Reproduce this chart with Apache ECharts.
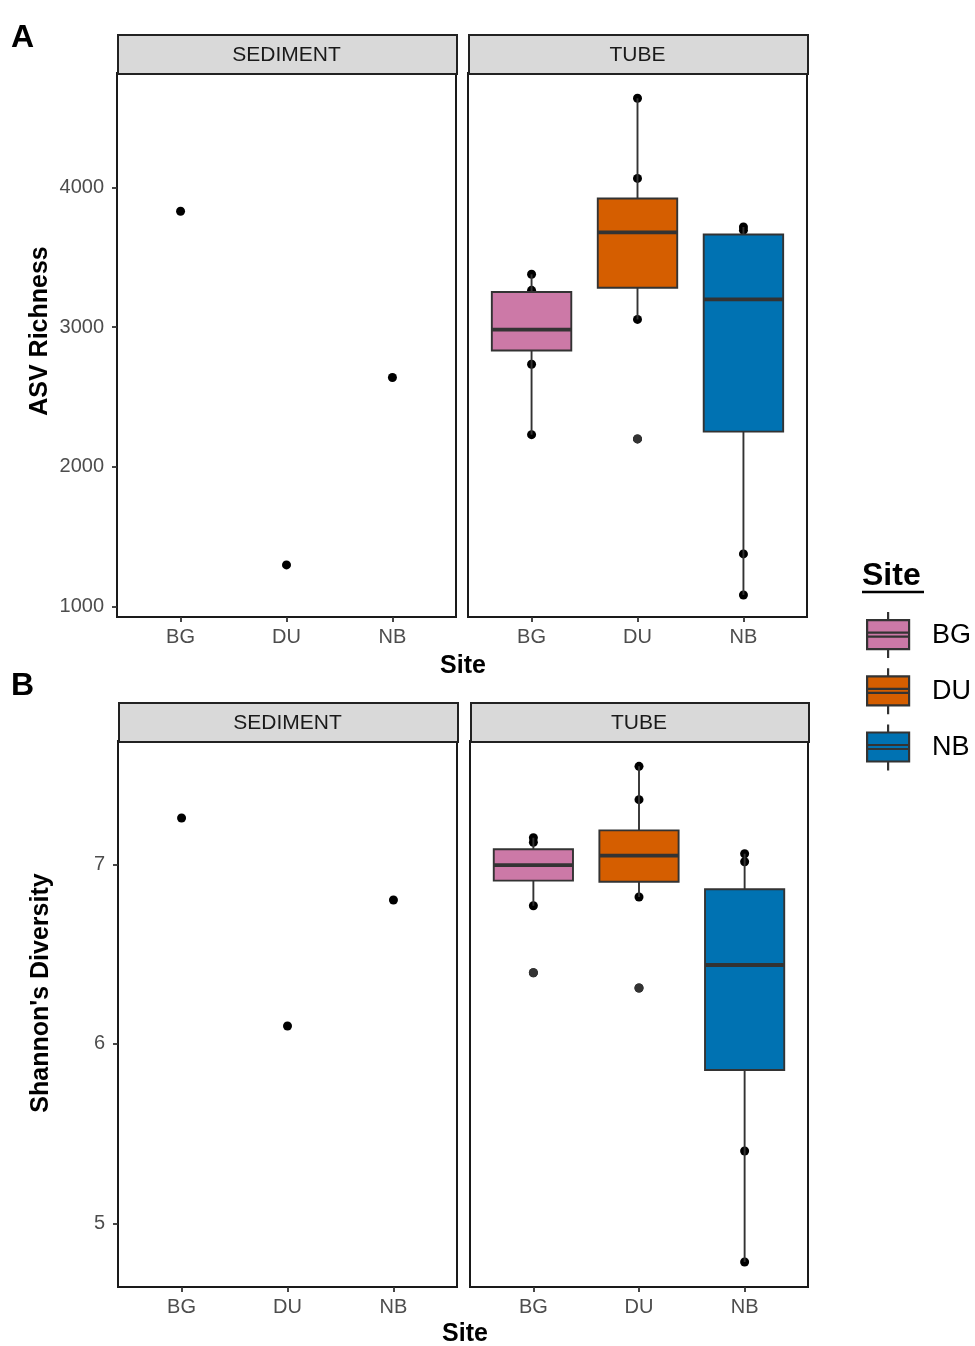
<!DOCTYPE html>
<html>
<head>
<meta charset="utf-8">
<script src="https://cdn.jsdelivr.net/npm/echarts@6/dist/echarts.min.js"></script>
<style>
html,body{margin:0;padding:0;background:#fff;}
#chart{width:975px;height:1346px;}
</style>
</head>
<body>
<div id="chart"></div>
<script>
// ---------- data ----------
const sites = ['BG', 'DU', 'NB'];
const siteColors = ['#CC79A7', '#D55E00', '#0072B2'];
const facets = ['SEDIMENT', 'TUBE'];
const richnessTicks = [1000, 2000, 3000, 4000];
const shannonTicks = [5, 6, 7];

// Panel A: ASV Richness
const sedimentRichness = [3830, 1296, 2639];
// box stats per site: [lower whisker, Q1, median, Q3, upper whisker]
const tubeRichnessBox = [
  [2229, 2832, 2981, 3251, 3378],
  [3055, 3282, 3679, 3921, 4639],
  [1081, 2251, 3198, 3663, 3717]
];
const tubeRichnessPoints = [
  [3378, 3263, 2734, 2229],
  [4639, 4065, 3055, 2199],
  [3717, 3694, 1375, 1081]
];
const tubeRichnessOutliers = [[], [2199], []];

// Panel B: Shannon's Diversity
const sedimentShannon = [7.258, 6.099, 6.801];
const tubeShannonBox = [
  [6.769, 6.909, 6.996, 7.084, 7.148],
  [6.818, 6.903, 7.048, 7.189, 7.546],
  [4.784, 5.854, 6.439, 6.861, 7.059]
];
const tubeShannonPoints = [
  [7.148, 7.123, 6.769, 6.396],
  [7.546, 7.360, 6.818, 6.311],
  [7.059, 7.014, 5.403, 4.784]
];
const tubeShannonOutliers = [[6.396], [6.311], []];

// ---------- styling ----------
const FONT = 'Liberation Sans, Arial, Helvetica, sans-serif';
const INK = '#333333';
const grids = [
  {left: 117, top: 73, width: 339, height: 544},
  {left: 468, top: 73, width: 339, height: 544},
  {left: 118, top: 741, width: 339, height: 546},
  {left: 470, top: 741, width: 338, height: 546}
];

function xAxisFor(gi) {
  return {
    type: 'value', gridIndex: gi, min: 0.4, max: 3.6,
    splitLine: {show: false},
    axisLine: {show: false},
    axisTick: {show: true, length: 5, customValues: [1, 2, 3], lineStyle: {color: INK, width: 1.8}},
    axisLabel: {customValues: [1, 2, 3], formatter: v => sites[Math.round(v) - 1] || '',
      color: '#4D4D4D', fontSize: 20, fontFamily: FONT, margin: 10}
  };
}
function yAxisFor(gi, min, max, ticks, showLabels) {
  return {
    type: 'value', gridIndex: gi, min: min, max: max,
    splitLine: {show: false},
    axisLine: {show: false},
    axisTick: {show: showLabels, length: 5, customValues: ticks, lineStyle: {color: INK, width: 1.8}},
    axisLabel: {show: showLabels, customValues: ticks, formatter: v => String(v),
      color: '#4D4D4D', fontSize: 20, fontFamily: FONT, margin: 13}
  };
}

function boxRender(params, api) {
  const x = api.value(0);
  const lo = api.coord([x, api.value(1)]);
  const q1 = api.coord([x, api.value(2)]);
  const med = api.coord([x, api.value(3)]);
  const q3 = api.coord([x, api.value(4)]);
  const hi = api.coord([x, api.value(5)]);
  const w = api.size([0.75, 0])[0];
  const cx = lo[0];
  const ls = {stroke: INK, lineWidth: 1.9};
  return {
    type: 'group',
    children: [
      {type: 'line', shape: {x1: cx, y1: hi[1], x2: cx, y2: q3[1]}, style: ls},
      {type: 'line', shape: {x1: cx, y1: q1[1], x2: cx, y2: lo[1]}, style: ls},
      {type: 'rect', shape: {x: cx - w / 2, y: q3[1], width: w, height: q1[1] - q3[1]},
        style: {fill: api.visual('color'), stroke: INK, lineWidth: 1.9}},
      {type: 'line', shape: {x1: cx - w / 2, y1: med[1], x2: cx + w / 2, y2: med[1]},
        style: {stroke: INK, lineWidth: 3.8}}
    ]
  };
}

const series = [];
function addPanel(gSed, gTube, sedVals, boxes, points, outliers) {
  series.push({
    type: 'scatter', name: 'sediment', xAxisIndex: gSed, yAxisIndex: gSed,
    symbolSize: 9, itemStyle: {color: '#000', opacity: 1}, z: 1,
    data: sedVals.map((v, i) => [i + 1, v])
  });
  const pts = [];
  points.forEach((arr, i) => arr.forEach(v => pts.push([i + 1, v])));
  series.push({
    type: 'scatter', name: 'tube points', xAxisIndex: gTube, yAxisIndex: gTube,
    symbolSize: 9, itemStyle: {color: '#000', opacity: 1}, z: 1, data: pts
  });
  sites.forEach((s, i) => {
    series.push({
      type: 'custom', name: s, xAxisIndex: gTube, yAxisIndex: gTube, z: 2,
      itemStyle: {color: siteColors[i]},
      renderItem: boxRender,
      encode: {x: 0, y: [1, 2, 3, 4, 5]},
      data: [[i + 1].concat(boxes[i])]
    });
  });
  const outs = [];
  outliers.forEach((arr, i) => arr.forEach(v => outs.push([i + 1, v])));
  series.push({
    type: 'scatter', name: 'outliers', xAxisIndex: gTube, yAxisIndex: gTube,
    symbolSize: 9, itemStyle: {color: '#333333', opacity: 1}, z: 3, data: outs
  });
}
addPanel(0, 1, sedimentRichness, tubeRichnessBox, tubeRichnessPoints, tubeRichnessOutliers);
addPanel(2, 3, sedimentShannon, tubeShannonBox, tubeShannonPoints, tubeShannonOutliers);

const graphics = [];
grids.forEach((g, i) => {
  graphics.push({
    type: 'rect', left: g.left, top: g.top - 39, z: 10,
    shape: {width: g.width, height: 39},
    style: {fill: '#D9D9D9', stroke: '#222', lineWidth: 2}
  });
  graphics.push({
    type: 'text', z: 11,
    x: g.left + g.width / 2, y: g.top - 18,
    style: {text: facets[i % 2], fontSize: 21, fontFamily: FONT, fill: '#1A1A1A', align: 'center', verticalAlign: 'middle'}
  });
});
const boldText = (txt, x, y, size, rot, align) => ({
  type: 'text', x: x, y: y, rotation: rot || 0,
  style: {text: txt, fontSize: size, fontWeight: 'bold', fontFamily: FONT, fill: '#000',
    align: align || 'center', verticalAlign: 'middle'}
});
graphics.push(boldText('Site', 463, 666, 25));
graphics.push(boldText('Site', 465, 1334, 25));
graphics.push(boldText('ASV Richness', 40, 331, 25, Math.PI / 2));
graphics.push(boldText("Shannon's Diversity", 41, 993, 25, Math.PI / 2));
graphics.push(boldText('A', 11, 38, 32, 0, 'left'));
graphics.push(boldText('B', 11, 686, 32, 0, 'left'));
graphics.push(boldText('Site', 862, 576, 32, 0, 'left'));
graphics.push({type: 'line', shape: {x1: 862, y1: 592, x2: 924, y2: 592}, style: {stroke: '#000', lineWidth: 2.4}});

const option = {
  backgroundColor: '#fff',
  animation: false,
  grid: grids.map(g => Object.assign({show: true, borderColor: '#1A1A1A', borderWidth: 2, backgroundColor: '#fff'}, g)),
  xAxis: [xAxisFor(0), xAxisFor(1), xAxisFor(2), xAxisFor(3)],
  yAxis: [
    yAxisFor(0, 923, 4820, richnessTicks, true),
    yAxisFor(1, 923, 4820, richnessTicks, false),
    yAxisFor(2, 4.645, 7.687, shannonTicks, true),
    yAxisFor(3, 4.645, 7.687, shannonTicks, false)
  ],
  legend: {
    data: sites, orient: 'vertical', left: 866, top: 611,
    itemWidth: 42, itemHeight: 46, itemGap: 8, padding: 0,
    icon: 'path://M0,8 H42 V37 H0 Z M0,20.5 H42 V24.5 H0 Z M21,0 V8 M21,37 V46',
    itemStyle: {borderColor: INK, borderWidth: 2.2},
    textStyle: {fontSize: 27, fontFamily: FONT, color: '#000', padding: [0, 0, 0, 18]},
    selectedMode: false
  },
  graphic: graphics,
  series: series
};
const chart = echarts.init(document.getElementById('chart'), null, {renderer: 'canvas'});
chart.setOption(option);
</script>
</body>
</html>
